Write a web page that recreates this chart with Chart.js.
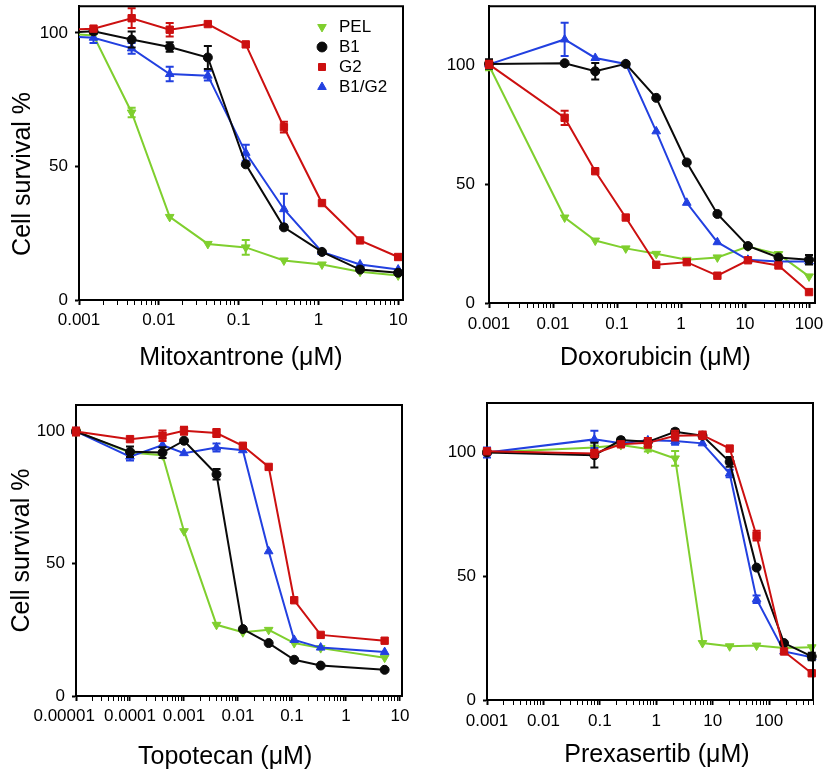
<!DOCTYPE html>
<html>
<head>
<meta charset="utf-8">
<script src="https://cdn.jsdelivr.net/npm/chart.js@4.4.1/dist/chart.umd.min.js"></script>
<style>
html,body{margin:0;padding:0;background:#fff;}
#wrap{position:relative;width:825px;height:770px;overflow:hidden;}
#wrap canvas{position:absolute;}
</style>
</head>
<body>
<div id="wrap">
<canvas id="c1" width="412" height="385" style="left:0;top:0"></canvas>
<canvas id="c2" width="413" height="385" style="left:412px;top:0"></canvas>
<canvas id="c3" width="412" height="385" style="left:0;top:385px"></canvas>
<canvas id="c4" width="413" height="385" style="left:412px;top:385px"></canvas>
</div>
<script>
// ---------- series ----------
const seriesLabels = ['PEL', 'B1', 'G2', 'B1/G2'];
const yTickValues = [0, 50, 100];
const yAxisTitle = 'Cell survival %';

// ---------- Mitoxantrone ----------
const mitoxantroneConc = [0.0005, 0.00152, 0.00457, 0.0137, 0.0412, 0.123, 0.37, 1.11, 3.33, 10];
const mitoxantronePEL  = [100, 99, 70.2, 31.1, 21, 19.7, 14.8, 13.3, 10.6, 9.2];
const mitoxantroneB1   = [100, 100.6, 97.5, 94.7, 90.8, 50.8, 27.2, 18, 11.4, 10.2];
const mitoxantroneG2   = [101, 101.6, 105.5, 101.2, 103.3, 95.7, 64.7, 36.3, 22.3, 16.1];
const mitoxantroneB1G2 = [98.8, 98.2, 94.2, 84.6, 84, 55.1, 34, 18, 13.3, 11.4];
const mitoxantroneErrPEL  = [0, 0, 1.8, 0, 0, 2.8, 0, 0, 0, 0];
const mitoxantroneErrB1   = [0, 1, 3, 1.8, 4.3, 0, 0, 0, 0, 0];
const mitoxantroneErrG2   = [0, 0, 3.7, 2.5, 0, 0, 2, 0, 0, 0];
const mitoxantroneErrB1G2 = [0, 2, 2, 2.7, 1.8, 3, 5.8, 0, 0, 0];
const mitoxantroneTicks = [0.001, 0.01, 0.1, 1, 10];
const mitoxantroneTickLabels = ['0.001', '0.01', '0.1', '1', '10'];

// ---------- Doxorubicin ----------
const doxorubicinConc = [0.001, 0.0152, 0.0457, 0.137, 0.41, 1.23, 3.7, 11.1, 33.3, 100];
const doxorubicinPEL  = [100, 36, 26.3, 23, 20.7, 18.2, 19.2, 23.8, 20.6, 11.2];
const doxorubicinB1   = [100.7, 101, 97.6, 100.7, 86.4, 59.2, 37.5, 24, 19.2, 18.2];
const doxorubicinG2   = [100.5, 78, 55.5, 36, 16.1, 17.2, 11.5, 18, 15.8, 4.6];
const doxorubicinB1G2 = [100.5, 111, 103.2, 100.7, 72.3, 42.2, 25.6, 18.2, 17.5, 17.5];
const doxorubicinErrPEL  = [2, 0, 0, 0, 0, 0, 0, 0, 0, 0];
const doxorubicinErrB1   = [2, 0, 3.5, 0, 0, 0, 0, 0, 0, 2];
const doxorubicinErrG2   = [1.5, 3, 0, 0, 0, 0, 0, 0, 0, 0];
const doxorubicinErrB1G2 = [0, 7, 0, 0, 0, 0, 0, 0, 0, 0];
const doxorubicinTicks = [0.001, 0.01, 0.1, 1, 10, 100];
const doxorubicinTickLabels = ['0.001', '0.01', '0.1', '1', '10', '100'];

// ---------- Topotecan ----------
const topotecanConc = [0.00001, 0.0001, 0.0004, 0.001, 0.004, 0.0123, 0.037, 0.11, 0.34, 5.2];
const topotecanPEL  = [100, 92, 91, 62.3, 26.9, 24.1, 25, 20, 18.1, 14.5];
const topotecanB1   = [100, 92.3, 92, 96.5, 83.8, 25.3, 20, 13.7, 11.5, 9.9];
const topotecanG2   = [100, 97.1, 98.4, 100.3, 99.4, 94.6, 86.6, 36.2, 23.1, 20.9];
const topotecanB1G2 = [100, 90.5, 94.9, 91.8, 93.9, 92.9, 54.7, 21.2, 18.3, 16.6];
const topotecanErrPEL  = [0, 0, 0, 0, 0, 0, 0, 0, 0, 0];
const topotecanErrB1   = [0, 2, 2, 0, 2, 0, 0, 0, 0, 0];
const topotecanErrG2   = [1.5, 0, 2, 1.5, 1.5, 0, 0, 0, 0, 0];
const topotecanErrB1G2 = [0, 1.5, 0, 0, 1.5, 0, 0, 0, 0, 0];
const topotecanTicks = [0.00001, 0.0001, 0.001, 0.01, 0.1, 1, 10];
const topotecanTickLabels = ['0.00001', '0.0001', '0.001', '0.01', '0.1', '1', '10'];

// ---------- Prexasertib ----------
const prexasertibConc = [0.001, 0.08, 0.236, 0.71, 2.16, 6.6, 20, 60, 184, 570];
const prexasertibPEL  = [100, 102, 103, 101.4, 97.6, 23, 21.7, 22, 21, 21.3];
const prexasertibB1   = [100, 98.9, 105, 104.3, 108.4, 106.8, 96.2, 53.5, 23, 17.6];
const prexasertibG2   = [100.5, 99.6, 103.3, 103.9, 106.8, 107, 101.6, 66.4, 19.6, 10.8];
const prexasertibB1G2 = [100, 105.3, 103.7, 104.9, 104.6, 103.7, 91.5, 40.7, 19.6, 17.3];
const prexasertibErrPEL  = [0, 0, 0, 1, 3, 0, 0, 0, 0, 0];
const prexasertibErrB1   = [0, 5, 1, 0, 1, 0, 2, 0, 0, 1.5];
const prexasertibErrG2   = [0, 1.5, 0, 2, 2, 1.5, 0, 2, 0, 0];
const prexasertibErrB1G2 = [2, 3.5, 0, 0, 1.5, 0, 1.5, 1.5, 0, 0];
const prexasertibTicks = [0.001, 0.01, 0.1, 1, 10, 100];
const prexasertibTickLabels = ['0.001', '0.01', '0.1', '1', '10', '100'];

// ---------- styling ----------
const FONT = "'Liberation Sans', Arial, Helvetica, sans-serif";
const seriesColors = ['#7fcf2e', '#0a0a0a', '#cc1010', '#2240e0'];
const seriesPointStyles = ['triangle', 'circle', 'rect', 'triangle'];
const seriesRotation = [180, 0, 0, 0];
const seriesRadius = [5, 4.5, 5.2, 5];
const seriesOrder = [3, 1, 0, 2];

const errorBarPlugin = {
  id: 'errorBars',
  afterDatasetDraw(chart, args) {
    const ds = chart.data.datasets[args.index];
    if (!ds.errorBars) return;
    const xs = chart.scales.x, ys = chart.scales.y, ctx = chart.ctx, a = chart.chartArea;
    ctx.save();
    ctx.strokeStyle = ds.borderColor;
    ctx.lineWidth = 2;
    ds.data.forEach((p, i) => {
      const e = ds.errorBars[i];
      if (!e) return;
      const x = xs.getPixelForValue(p.x);
      if (x < a.left - 1 || x > a.right + 1) return;
      const y1 = ys.getPixelForValue(p.y + e), y2 = ys.getPixelForValue(p.y - e);
      ctx.beginPath();
      ctx.moveTo(x, y1); ctx.lineTo(x, y2);
      ctx.moveTo(x - 4, y1); ctx.lineTo(x + 4, y1);
      ctx.moveTo(x - 4, y2); ctx.lineTo(x + 4, y2);
      ctx.stroke();
    });
    ctx.restore();
  }
};

const framePlugin = {
  id: 'frame',
  afterDraw(chart) {
    const {ctx, chartArea: a} = chart;
    ctx.save();
    ctx.strokeStyle = '#000';
    ctx.lineWidth = 2;
    ctx.beginPath();
    ctx.moveTo(a.left - 1, a.top);
    ctx.lineTo(a.right, a.top);
    ctx.lineTo(a.right, a.bottom + 1);
    ctx.stroke();
    ctx.restore();
  }
};

const legendPlacePlugin = {
  id: 'legendPlace',
  afterLayout(chart, args, opts) {
    const lg = chart.legend;
    if (!lg || !opts || opts.left == null) return;
    const w = lg.width, h = lg.height;
    lg.left = opts.left; lg.top = opts.top;
    lg.right = opts.left + w; lg.bottom = opts.top + h;
  }
};

function near(a, b) { return Math.abs(Math.log10(a) - Math.log10(b)) < 1e-6; }

function makePanel(id, p) {
  const canvas = document.getElementById(id);
  const W = canvas.width, H = canvas.height;
  const datasets = seriesLabels.map((name, k) => ({
    label: name,
    data: p.conc.map((c, i) => ({x: c, y: p.values[k][i]})),
    errorBars: p.errors[k],
    borderColor: seriesColors[k],
    backgroundColor: seriesColors[k],
    pointBackgroundColor: seriesColors[k],
    pointBorderColor: seriesColors[k],
    pointStyle: seriesPointStyles[k],
    pointRotation: seriesRotation[k],
    pointRadius: seriesRadius[k],
    pointBorderWidth: 1,
    borderWidth: 2,
    tension: 0,
    order: seriesOrder[k],
    clip: p.clip
  }));
  // tick marks: labelled decades plus unlabelled minor marks
  const tickVals = [];
  p.xTicks.forEach(d => {
    for (let m = 1; m <= 9; m++) {
      const v = d * m;
      if (v >= p.xMin * 0.9999 && v <= p.xMax) tickVals.push(v);
    }
  });
  const isMajor = v => p.xTicks.some(t => near(t, v));
  const labelFor = v => {
    const idx = p.xTicks.findIndex(t => near(t, v));
    if (idx < 0) return '';
    // first label of a crowded axis sits a little left of its tick
    return (idx === 0 && p.firstLabelPad) ? p.xTickLabels[idx] + ' '.repeat(p.firstLabelPad) : p.xTickLabels[idx];
  };
  return new Chart(canvas, {
    type: 'line',
    data: {datasets},
    plugins: [errorBarPlugin, framePlugin, legendPlacePlugin],
    options: {
      responsive: false,
      animation: false,
      events: [],
      layout: {padding: {left: 0, top: p.area.top, right: W - p.area.right, bottom: 0}},
      scales: {
        x: {
          type: 'logarithmic',
          bounds: 'data',
          min: p.xMin, max: p.xMax,
          afterBuildTicks(s) { s.ticks = tickVals.map(v => ({value: v, major: isMajor(v)})); },
          afterFit(s) { s.height = H - p.area.bottom; s.paddingLeft = 0; s.paddingRight = 0; },
          ticks: {
            autoSkip: false, maxRotation: 0, minRotation: 0, padding: p.xTickPad,
            color: '#000', font: {family: FONT, size: 17},
            callback: v => labelFor(v)
          },
          grid: {
            display: true, drawOnChartArea: false, drawTicks: true, tickLength: 5,
            tickColor: '#000',
            tickWidth: c => (c.tick && isMajor(c.tick.value)) ? 2 : 1
          },
          border: {display: true, color: '#000', width: 2},
          title: {
            display: true, text: p.xTitle, color: '#000',
            font: {family: FONT, size: 25, lineHeight: 1},
            padding: {top: 0, bottom: p.xTitlePad}
          }
        },
        y: {
          type: 'linear',
          min: 0, max: p.yMax,
          afterBuildTicks(s) { s.ticks = yTickValues.map(v => ({value: v})); },
          afterFit(s) { s.width = p.area.left; s.paddingTop = 0; s.paddingBottom = 0; },
          ticks: {padding: p.yTickPad, color: '#000', font: {family: FONT, size: 17}, callback: v => String(v)},
          grid: {display: true, drawOnChartArea: false, drawTicks: true, tickLength: 4, tickColor: '#000', tickWidth: 2},
          border: {display: true, color: '#000', width: 2},
          title: {
            display: !!p.yTitle, text: p.yTitle || '', color: '#000',
            font: {family: FONT, size: 25, lineHeight: 1},
            padding: {top: p.yTitlePad || 0, bottom: 0}
          }
        }
      },
      plugins: {
        tooltip: {enabled: false},
        legend: p.legend ? {
          display: true, position: 'chartArea', align: 'start',
          labels: {
            usePointStyle: true, boxWidth: 20, boxHeight: 7, padding: 3,
            color: '#000', font: {family: FONT, size: 17},
            sort: (a, b) => a.datasetIndex - b.datasetIndex
          }
        } : {display: false},
        legendPlace: p.legend ? p.legend : {}
      }
    }
  });
}

makePanel('c1', {
  conc: mitoxantroneConc,
  values: [mitoxantronePEL, mitoxantroneB1, mitoxantroneG2, mitoxantroneB1G2],
  errors: [mitoxantroneErrPEL, mitoxantroneErrB1, mitoxantroneErrG2, mitoxantroneErrB1G2],
  xTicks: mitoxantroneTicks, xTickLabels: mitoxantroneTickLabels,
  xMin: 0.001, xMax: 11.5, yMax: 110,
  area: {left: 79, right: 403, top: 2, bottom: 300},
  clip: undefined,
  xTitle: 'Mitoxantrone (\u03BCM)', xTitlePad: 14.5, xTickPad: 5,
  yTitle: yAxisTitle + '      ', yTitlePad: 10.5, yTickPad: 7,
  legend: {left: 310.5, top: 15.5}
});

makePanel('c2', {
  conc: doxorubicinConc,
  values: [doxorubicinPEL, doxorubicinB1, doxorubicinG2, doxorubicinB1G2],
  errors: [doxorubicinErrPEL, doxorubicinErrB1, doxorubicinErrG2, doxorubicinErrB1G2],
  xTicks: doxorubicinTicks, xTickLabels: doxorubicinTickLabels,
  xMin: 0.001, xMax: 124, yMax: 125,
  area: {left: 77, right: 403, top: 3, bottom: 303},
  clip: false,
  xTitle: ' Doxorubicin (\u03BCM)', xTitlePad: 14.5, xTickPad: 6,
  yTitle: null, yTickPad: 10
});

makePanel('c3', {
  conc: topotecanConc,
  values: [topotecanPEL, topotecanB1, topotecanG2, topotecanB1G2],
  errors: [topotecanErrPEL, topotecanErrB1, topotecanErrG2, topotecanErrB1G2],
  xTicks: topotecanTicks, xTickLabels: topotecanTickLabels,
  xMin: 0.00001, xMax: 10.9, yMax: 110,
  area: {left: 76, right: 402, top: 20, bottom: 311},
  clip: false,
  firstLabelPad: 5,
  xTitle: 'Topotecan (\u03BCM)    ', xTitlePad: 0.5, xTickPad: 5,
  yTitle: yAxisTitle, yTitlePad: 9.5, yTickPad: 7
});

makePanel('c4', {
  conc: prexasertibConc,
  values: [prexasertibPEL, prexasertibB1, prexasertibG2, prexasertibB1G2],
  errors: [prexasertibErrPEL, prexasertibErrB1, prexasertibErrG2, prexasertibErrB1G2],
  xTicks: prexasertibTicks, xTickLabels: prexasertibTickLabels,
  xMin: 0.001, xMax: 600, yMax: 120,
  area: {left: 75, right: 401, top: 18, bottom: 315},
  clip: false,
  xTitle: '  Prexasertib (\u03BCM)', xTitlePad: 2.5, xTickPad: 6,
  yTitle: null, yTickPad: 7
});
</script>
</body>
</html>
